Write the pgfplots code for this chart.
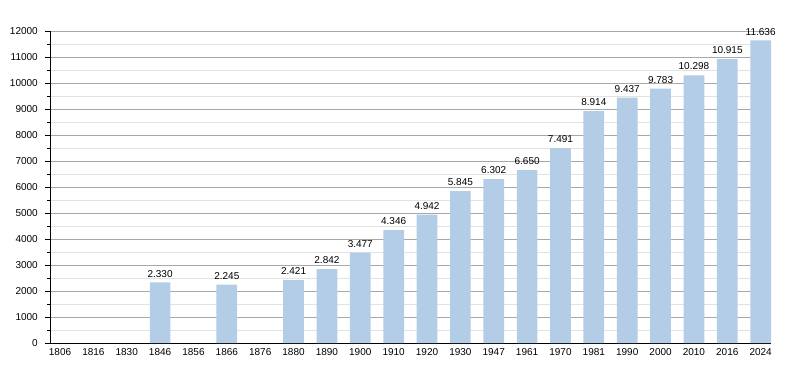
\documentclass[border=0pt]{standalone}
\usepackage{pgfplots}
\pgfplotsset{compat=1.18}
\usepackage{fontspec}
\setmainfont{Liberation Sans}
\usetikzlibrary{calc}
\definecolor{barblue}{RGB}{179,205,230}
\definecolor{majgrid}{RGB}{168,168,168}
\definecolor{mingrid}{RGB}{226,226,226}
\begin{document}
\begin{tikzpicture}
\begin{axis}[name=ax,
  scale only axis, width=721pt, height=312pt,
  xmin=-0.3, xmax=21.31, ymin=0, ymax=12000,
  axis x line*=bottom, axis y line*=left,
  axis line style={black, line width=0.8pt},
  xtick={0,...,21},
  xticklabels={1806,1816,1830,1846,1856,1866,1876,1880,1890,1900,1910,1920,1930,1947,1961,1970,1981,1990,2000,2010,2016,2024},
  major x tick style={draw=none},
  ytick={0,1000,...,12000},
  minor y tick num=1,
  scaled y ticks=false,
  ymajorgrids, yminorgrids,
  major grid style={majgrid, line width=0.8pt},
  minor grid style={mingrid, line width=0.8pt},
  tick align=outside,
  major tick length=5pt, minor tick length=2.5pt,
  y tick style={black, line width=0.8pt},
  /pgf/number format/.cd, 1000 sep={}, assume math mode=true, /pgfplots/.cd,
  tick label style={font=\fontsize{10}{12}\selectfont},
  xticklabel style={inner sep=0pt, yshift=0pt},
  yticklabel style={inner sep=0pt, xshift=-7pt},
]
\addplot[ybar, bar width=20.7pt, fill=barblue, draw=none,
  nodes near coords={\pgfmathprintnumber[1000 sep={.}, assume math mode=true]{\pgfplotspointmeta}},
  every node near coord/.append style={font=\fontsize{10}{12}\selectfont, anchor=south, inner sep=0pt, yshift=5pt, black}]
coordinates {
(3,2330) (5,2245) (7,2421) (8,2842) (9,3477) (10,4346) (11,4942) (12,5845)
(13,6302) (14,6650) (15,7491) (16,8914) (17,9437) (18,9783) (19,10298) (20,10915) (21,11636)
};
\end{axis}
\path ($(ax.south west)+(-50pt,-30pt)$) rectangle ($(ax.south west)+(750pt,343pt)$);
\end{tikzpicture}
\end{document}
